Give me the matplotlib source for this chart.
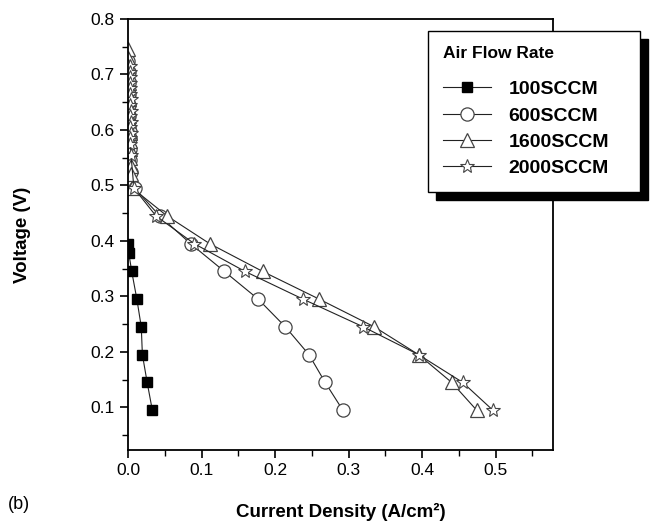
import matplotlib
matplotlib.use("Agg")
import matplotlib.pyplot as plt
from matplotlib.ticker import MultipleLocator, FormatStrFormatter

plt.rcParams['font.family'] = ['Liberation Sans', 'DejaVu Sans']

# 100 SCCM
v100 = [0.395, 0.378, 0.345, 0.295, 0.245, 0.195, 0.145, 0.095]
i100 = [0.000, 0.001, 0.005, 0.012, 0.018, 0.0195, 0.026, 0.033]

# 600 SCCM
v600 = [0.725, 0.705, 0.685, 0.665, 0.645, 0.625, 0.605, 0.585, 0.565, 0.545, 0.525,
        0.495, 0.445, 0.395, 0.345, 0.295, 0.245, 0.195, 0.145, 0.095]
i600 = [0.0005, 0.0008, 0.0010, 0.0012, 0.0014, 0.0016, 0.0018, 0.0020, 0.0025, 0.0030, 0.0040,
        0.009, 0.043, 0.085, 0.131, 0.177, 0.214, 0.246, 0.268, 0.292]

# 1600 SCCM
v1600 = [0.745, 0.73, 0.715, 0.70, 0.685, 0.67, 0.655, 0.64, 0.625, 0.61, 0.595, 0.58,
         0.565, 0.55, 0.535, 0.52, 0.495, 0.445, 0.395, 0.345, 0.295, 0.245, 0.195, 0.145, 0.095]
i1600 = [0.0002, 0.0004, 0.0006, 0.0008, 0.0010, 0.0012, 0.0014, 0.0016, 0.0018, 0.0020, 0.0022, 0.0024,
         0.0026, 0.0030, 0.0035, 0.0045, 0.006, 0.053, 0.111, 0.183, 0.260, 0.335, 0.395, 0.440, 0.474]

# 2000 SCCM
v2000 = [0.715, 0.705, 0.695, 0.685, 0.675, 0.665, 0.655, 0.645, 0.635, 0.625, 0.615, 0.605,
         0.595, 0.585, 0.575, 0.555, 0.495, 0.445, 0.395, 0.345, 0.295, 0.245, 0.195, 0.145, 0.095]
i2000 = [0.0030, 0.0025, 0.0032, 0.0027, 0.0033, 0.0028, 0.0034, 0.0029, 0.0035, 0.0030, 0.0036, 0.0031,
         0.0037, 0.0032, 0.0030, 0.0040, 0.008, 0.038, 0.090, 0.159, 0.238, 0.320, 0.395, 0.455, 0.496]

labels = ['100SCCM', '600SCCM', '1600SCCM', '2000SCCM']

fig = plt.figure(figsize=(6.6, 5.27), dpi=100)
ax = fig.add_axes([0.194, 0.146, 0.644, 0.818])

lc = '#222222'
ax.plot(i100, v100, color=lc, lw=0.8, marker='s', ms=7.5, mfc='black', mec='black', label=labels[0])
ax.plot(i600, v600, color=lc, lw=0.8, marker='o', ms=9.5, mfc='white', mec='#444444', mew=0.9, label=labels[1])
ax.plot(i1600, v1600, color=lc, lw=0.8, marker='^', ms=10, mfc='white', mec='#444444', mew=0.9, label=labels[2])
ax.plot(i2000, v2000, color=lc, lw=0.8, marker='*', ms=10, mfc='white', mec='#444444', mew=0.8, label=labels[3])

ax.set_xlim(0, 0.578)
ax.set_ylim(0.023, 0.8)
ax.xaxis.set_major_locator(MultipleLocator(0.1))
ax.xaxis.set_minor_locator(MultipleLocator(0.05))
ax.yaxis.set_major_locator(MultipleLocator(0.1))
ax.yaxis.set_minor_locator(MultipleLocator(0.05))
ax.tick_params(which='major', direction='out', length=6, width=1.2, labelsize=12.5, top=False, right=False)
ax.tick_params(which='minor', direction='out', length=4, width=1.0, top=False, right=False)
ax.xaxis.set_major_formatter(FormatStrFormatter('%.1f'))
ax.yaxis.set_major_formatter(FormatStrFormatter('%.1f'))
for s in ax.spines.values():
    s.set_linewidth(1.3)

ax.set_xlabel('Current Density (A/cm²)', fontsize=13.5, fontweight='bold', labelpad=18)
ax.set_ylabel('Voltage (V)', fontsize=13.5, fontweight='bold', labelpad=43)
fig.text(0.012, 0.035, '(b)', fontsize=13)

shadow = {'ox': 6, 'oy': -6, 'facecolor': 'black', 'edgecolor': 'black', 'alpha': 1}
leg = ax.legend(loc='upper left', bbox_to_anchor=(0.6485, 0.5, 0.321, 0.441),
                bbox_transform=fig.transFigure, mode='expand',
                borderaxespad=0,
                title='Air Flow Rate', title_fontproperties={'weight': 'bold', 'size': 12.5},
                prop={'weight': 'bold', 'size': 14}, fancybox=False, shadow=shadow,
                edgecolor='black', framealpha=1, handlelength=2.5, handletextpad=0.9,
                labelspacing=0.45, borderpad=0.75)
leg._legend_box.align = 'left'
leg._legend_box.sep = leg._legend_box.sep + 8
leg.get_frame().set_linewidth(1.0)

fig.savefig('out.png', dpi=100)
